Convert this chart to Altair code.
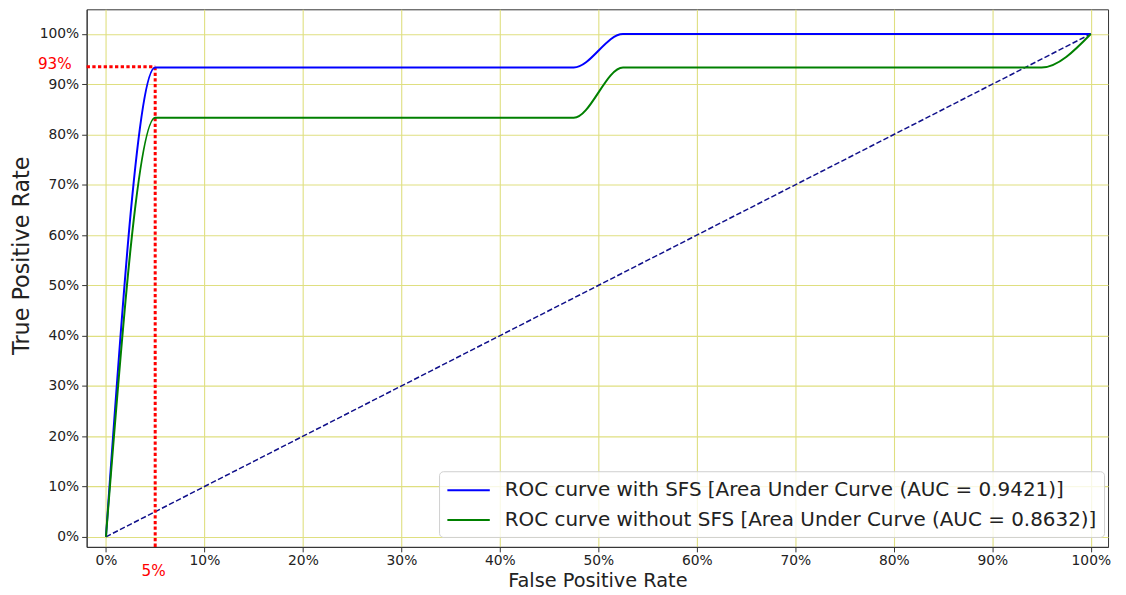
import altair as alt
import pandas as pd

# ---- data ----
series_names = [
    "ROC curve with SFS [Area Under Curve (AUC = 0.9421)]",
    "ROC curve without SFS [Area Under Curve (AUC = 0.8632)]",
]
series_colors = ["#0000ff", "#008000"]

fpr_with = [0.0, 0.05, 0.475, 0.525, 1.0]
tpr_with = [0.0, 0.9333, 0.9333, 1.0, 1.0]

fpr_without = [0.0, 0.05, 0.475, 0.525, 0.95, 1.0]
tpr_without = [0.0, 0.8333, 0.8333, 0.9333, 0.9333, 1.0]

chance_fpr = [0.0, 1.0]
chance_tpr = [0.0, 1.0]

marker_fpr = 0.05
marker_tpr = 0.935
marker_fpr_label = "5%"
marker_tpr_label = "93%"

tick_values = [0.0, 0.1, 0.2, 0.3, 0.4, 0.5, 0.6, 0.7, 0.8, 0.9, 1.0]
x_domain = [-0.0196, 1.0175]
y_domain = [-0.02, 1.049]

# ---- tables ----
rows = []
for i, (f, t) in enumerate(zip(fpr_with, tpr_with)):
    rows.append({"series": series_names[0], "fpr": f, "tpr": t, "o": i})
for i, (f, t) in enumerate(zip(fpr_without, tpr_without)):
    rows.append({"series": series_names[1], "fpr": f, "tpr": t, "o": i})
curves = pd.DataFrame(rows)
chance = pd.DataFrame({"fpr": chance_fpr, "tpr": chance_tpr})
hline = pd.DataFrame({"fpr": [x_domain[0]], "x2": [marker_fpr], "tpr": [marker_tpr]})
vline = pd.DataFrame({"fpr": [marker_fpr], "tpr": [y_domain[0]], "y2": [marker_tpr]})
tpr_lab = pd.DataFrame({"tpr": [marker_tpr], "label": [marker_tpr_label]})
fpr_lab = pd.DataFrame({"fpr": [marker_fpr], "label": [marker_fpr_label]})

FONT = "DejaVu Sans"
xs = alt.Scale(domain=x_domain, nice=False, zero=False)
ys = alt.Scale(domain=y_domain, nice=False, zero=False)

x_axis = alt.Axis(
    values=tick_values, format=".0%", title="False Positive Rate",
    titleFontSize=19.4, titleFontWeight="normal", titleColor="#222222",
    titleBaseline="alphabetic", titleY=40,
    labelFontSize=13.9, labelColor="#222222", labelPadding=2, labelFlush=False,
    tickSize=5, tickColor="#333333", domainColor="#333333",
    gridColor="#dfdf80", gridWidth=1.1,
)
y_axis = alt.Axis(
    values=tick_values, format=".0%", title="True Positive Rate",
    titleFontSize=22.4, titleFontWeight="normal", titleColor="#222222",
    titleBaseline="middle", titleX=-65, titleY=247, titleAngle=270,
    labelFontSize=13.9, labelColor="#222222", labelPadding=3,
    tickSize=5, tickColor="#333333", domainColor="#333333",
    gridColor="#dfdf80", gridWidth=1.1,
)

X = alt.X("fpr:Q", scale=xs, axis=x_axis)
Y = alt.Y("tpr:Q", scale=ys, axis=y_axis)

diag = alt.Chart(chance).mark_line(
    color="#10108a", strokeDash=[5.5, 2.4], strokeWidth=1.5
).encode(x=X, y=Y)

roc = alt.Chart(curves).mark_line(strokeWidth=2, interpolate="monotone").encode(
    x=X,
    y=Y,
    order="o:Q",
    color=alt.Color(
        "series:N",
        scale=alt.Scale(domain=series_names, range=series_colors),
        legend=alt.Legend(
            orient="none", legendX=354, legendY=464, title=None,
            fillColor="rgba(255,255,255,0.8)", strokeColor="#d0d0d0",
            cornerRadius=4, padding=7, rowPadding=8,
            symbolType="M-1,0H3", symbolSize=454, symbolStrokeWidth=2,
            labelFontSize=20, labelFont=FONT, labelColor="#222222",
            labelOffset=35, labelLimit=1000,
        ),
    ),
)

h_red = alt.Chart(hline).mark_rule(color="red", strokeWidth=3, strokeDash=[3.3, 2.4]).encode(
    x=X, x2="x2:Q", y=Y,
)
v_red = alt.Chart(vline).mark_rule(color="red", strokeWidth=3, strokeDash=[3.3, 2.4]).encode(
    x=X, y=Y, y2="y2:Q",
)

t93 = alt.Chart(tpr_lab).mark_text(
    color="red", fontSize=15.3, font=FONT, align="right", baseline="alphabetic", dy=2
).encode(
    x=alt.value(-15),
    y=Y,
    text="label:N",
)
t5 = alt.Chart(fpr_lab).mark_text(
    color="red", fontSize=15.3, font=FONT, align="center", baseline="alphabetic", dx=-1.5
).encode(
    x=X,
    y=alt.value(569),
    text="label:N",
)

chart = alt.layer(diag, h_red, v_red, roc, t93, t5).properties(
    width=1026, height=540,
    autosize=alt.AutoSizeParams(type="none"),
    padding={"left": 79, "top": 0, "right": 10, "bottom": 45},
).configure(font=FONT).configure_view(stroke="#333333", strokeWidth=1)

chart.save("out.html", embed_options={"renderer": "svg", "actions": False})
